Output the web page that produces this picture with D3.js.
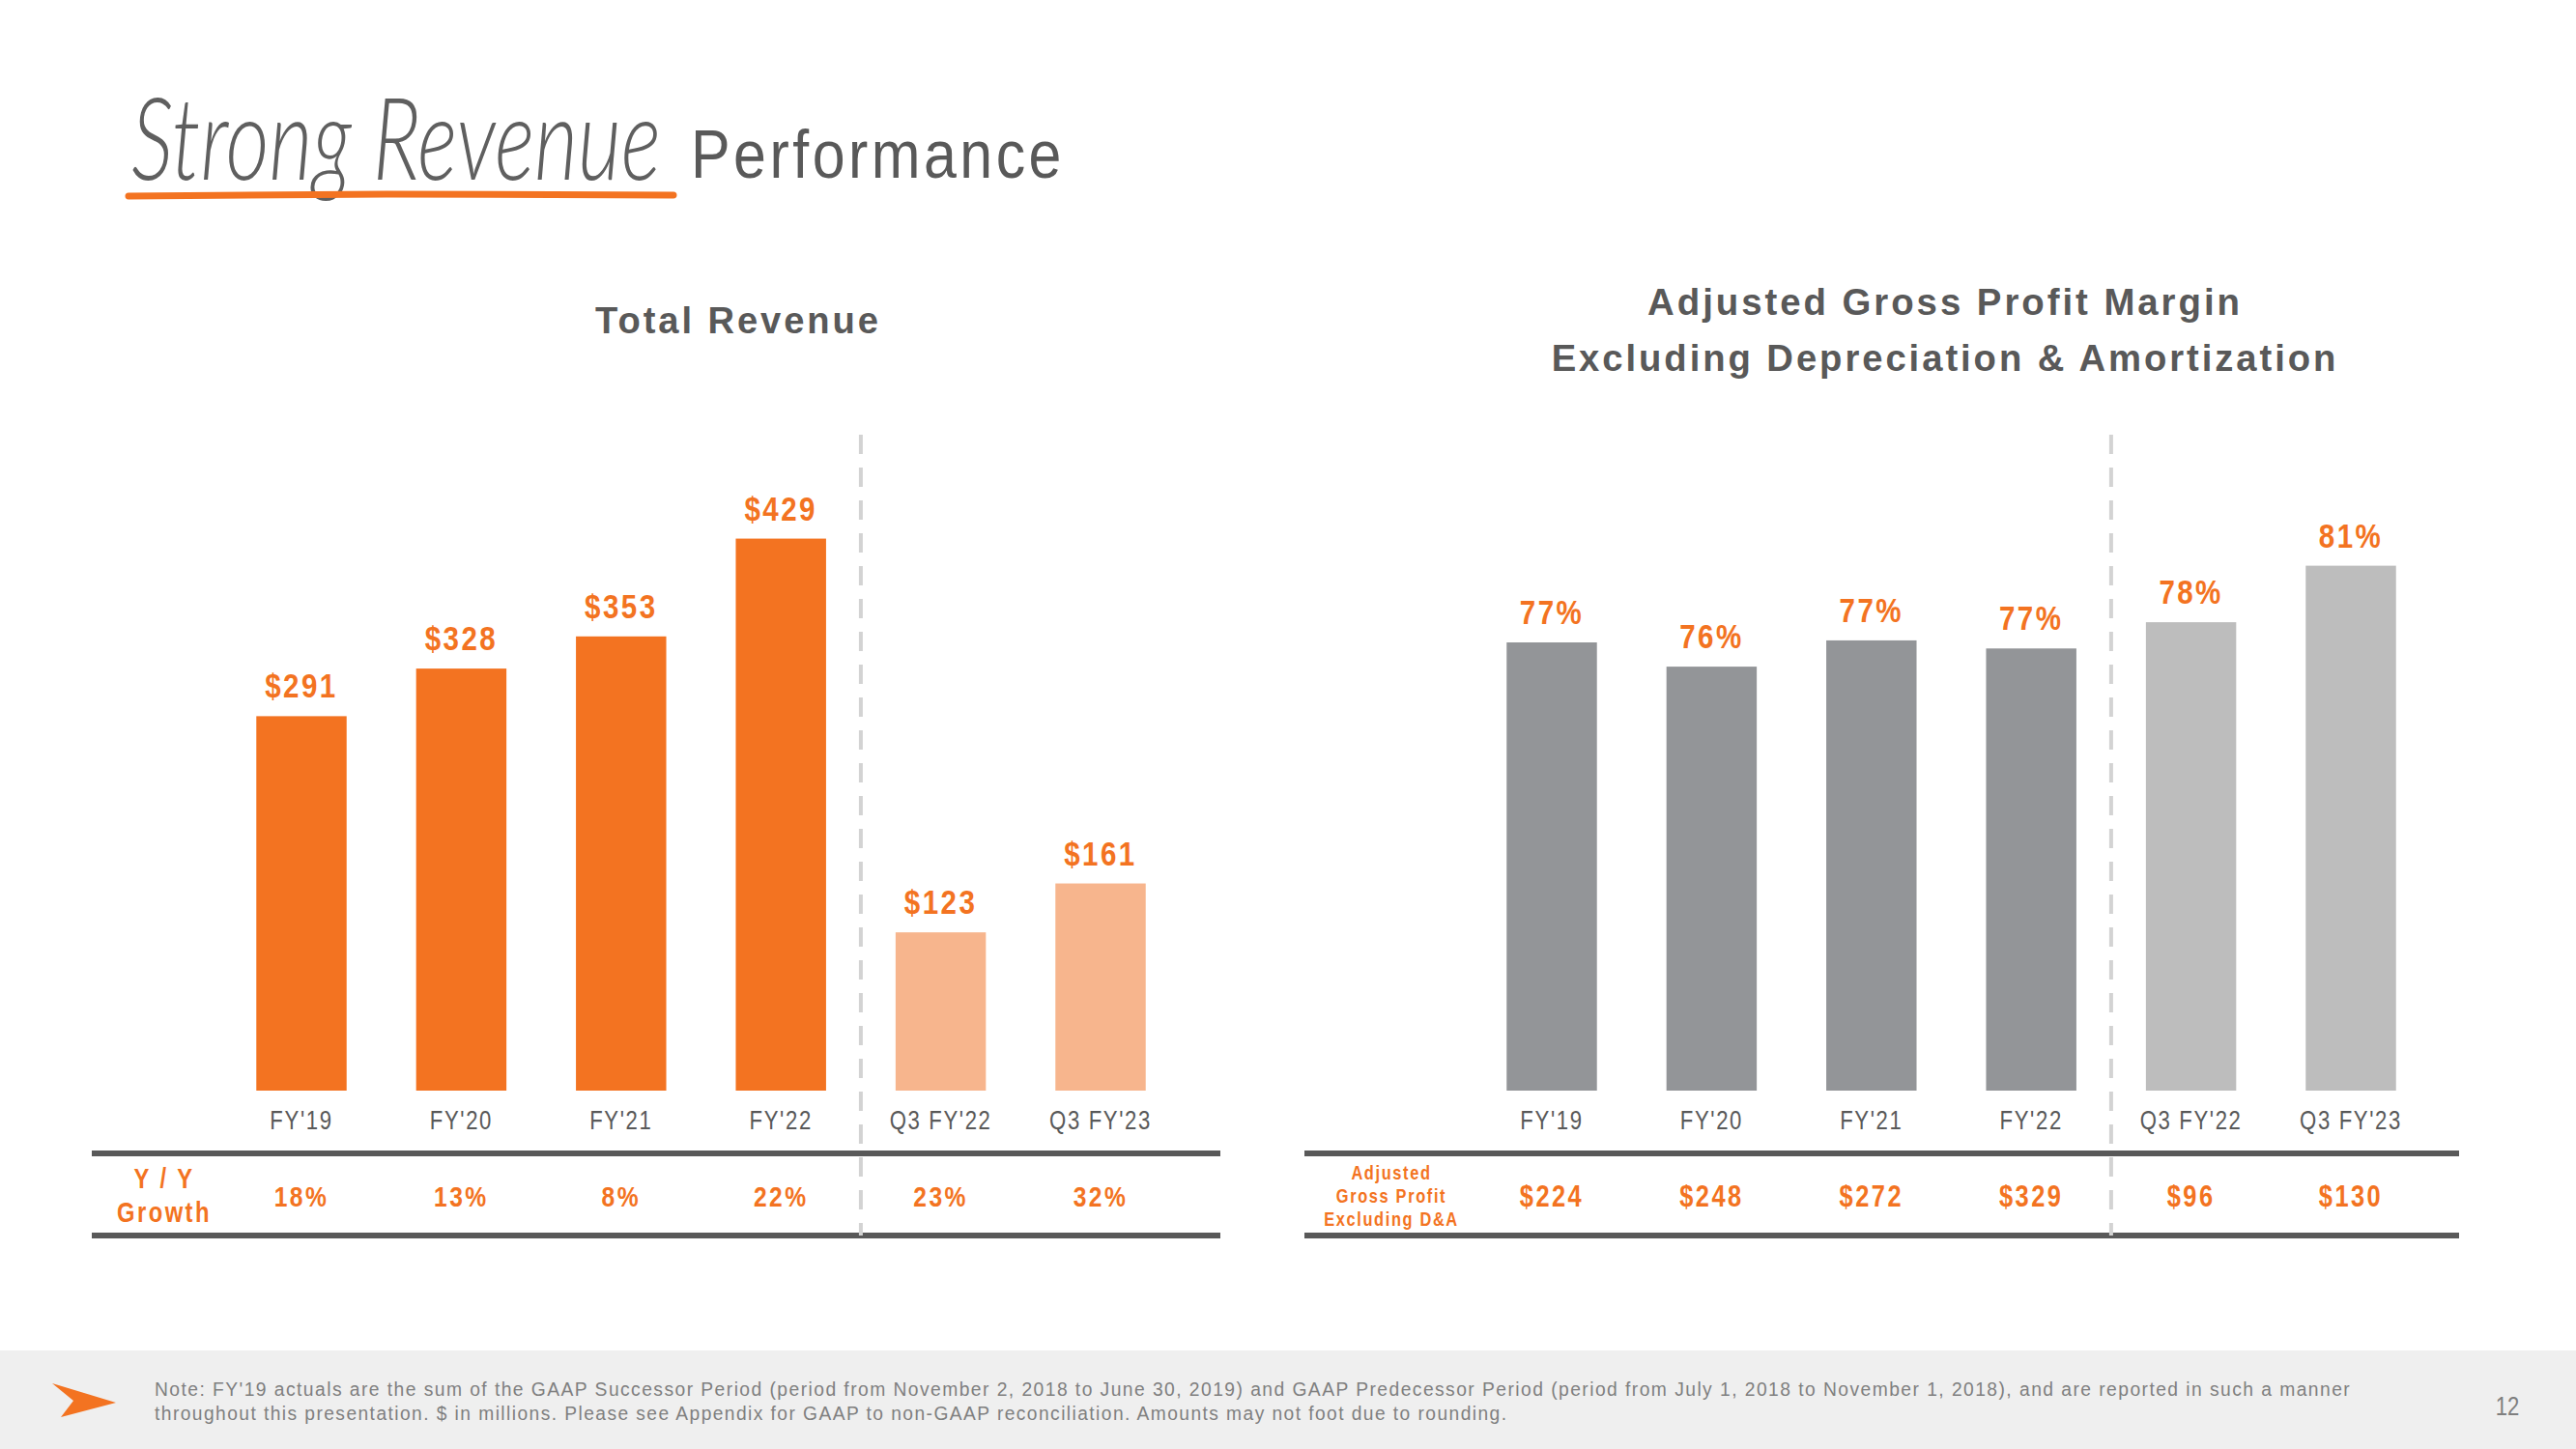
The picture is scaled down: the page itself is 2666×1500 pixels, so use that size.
<!DOCTYPE html>
<html>
<head>
<meta charset="utf-8">
<script src="https://cdn.jsdelivr.net/npm/d3@7"></script>
<style>
  html, body { margin: 0; padding: 0; background: #ffffff; }
  svg { display: block; }
</style>
</head>
<body>
<svg id="chart" width="2666" height="1500"></svg>
<script>
// ---------- DATA ----------
const categories = ["FY'19", "FY'20", "FY'21", "FY'22", "Q3 FY'22", "Q3 FY'23"];
const revenueValues = [291, 328, 353, 429, 123, 161];
const revenueLabels = ["$291", "$328", "$353", "$429", "$123", "$161"];
const revenueGrowth = ["18%", "13%", "8%", "22%", "23%", "32%"];
const marginValues = [77.2, 76.0, 77.3, 76.9, 78.2, 81.0];
const marginLabels = ["77%", "76%", "77%", "77%", "78%", "81%"];
const grossProfitLabels = ["$224", "$248", "$272", "$329", "$96", "$130"];
const periodType = ["annual", "annual", "annual", "annual", "quarter", "quarter"];

// ---------- STYLE ----------
const ORANGE = "#F37321";
const ORANGE_LIGHT = "#F7B58D";
const GRAY_DARK = "#939598";
const GRAY_LIGHT = "#BDBDBD";
const TEXT_GRAY = "#595959";
const SANS = "'Liberation Sans', Arial, sans-serif";
const NARROW_SCALE = 0.82;

const svg = d3.select("#chart");

// narrow-looking text: horizontally condensed sans
function narrowText(parent, x, y, str, o) {
  return parent.append("text")
    .attr("transform", `translate(${x},${y}) scale(${NARROW_SCALE},1)`)
    .attr("text-anchor", o.anchor || "middle")
    .attr("font-family", SANS)
    .attr("font-weight", o.weight || 400)
    .attr("font-size", o.size)
    .attr("letter-spacing", o.ls || 0)
    .attr("fill", o.fill)
    .text(str);
}

// text squeezed to a target width through a scale transform
function fittedText(parent, x, y, str, width, o) {
  const t = parent.append("text")
    .attr("text-anchor", o.anchor || "start")
    .attr("font-family", o.family || SANS)
    .attr("font-style", o.style || "normal")
    .attr("font-weight", o.weight || 400)
    .attr("font-size", o.size)
    .attr("letter-spacing", o.ls || 0)
    .attr("fill", o.fill)
    .text(str);
  const w = t.node().getComputedTextLength() || width;
  t.attr("transform", `translate(${x},${y}) scale(${width / w},1)`);
  return t;
}

// ---------- HEADER ----------
fittedText(svg, 136, 186, "Strong Revenue", 548,
  { family: "Lato, sans-serif", style: "italic", weight: 300, size: 118, fill: "#5f5f5f" });

svg.append("path")
  .attr("d", d3.line()([[133, 203], [400, 201], [697, 202]]))
  .attr("stroke", ORANGE).attr("stroke-width", 7)
  .attr("stroke-linecap", "round").attr("fill", "none");

fittedText(svg, 715, 184, "Performance", 387,
  { size: 70, ls: 4, fill: TEXT_GRAY });

// ---------- CHART BUILDER ----------
function buildChart(opts) {
  const g = svg.append("g");
  const x = d3.scaleBand()
    .domain(categories)
    .range(opts.xRange)
    .paddingInner(0.435)
    .paddingOuter(0.2175);
  const y = d3.scaleLinear().domain(opts.yDomain).range(opts.yRange);
  const cx = i => x(categories[i]) + x.bandwidth() / 2;

  // title
  opts.title.forEach((t, i) => {
    fittedText(g, opts.titleX, opts.titleY[i], t, opts.titleW[i],
      { anchor: "middle", weight: 700, size: 39, ls: 3, fill: TEXT_GRAY });
  });

  // bars
  g.selectAll("rect.bar").data(opts.values).join("rect")
    .attr("class", "bar")
    .attr("x", (d, i) => x(categories[i]))
    .attr("width", x.bandwidth())
    .attr("y", d => y(d))
    .attr("height", d => y(opts.yDomain[0]) - y(d))
    .attr("fill", (d, i) => periodType[i] === "annual" ? opts.colors[0] : opts.colors[1]);

  // value labels
  opts.labels.forEach((d, i) => {
    narrowText(g, cx(i), y(opts.values[i]) - 19, d,
      { weight: 700, size: 36, ls: 3, fill: ORANGE });
  });

  // x axis labels
  const axis = d3.axisBottom(x).tickSize(0).tickPadding(0);
  const ag = g.append("g")
    .attr("transform", `translate(0, ${opts.yRange[0] + 40})`)
    .call(axis);
  ag.select(".domain").remove();
  ag.selectAll("text")
    .attr("font-family", SANS).attr("font-size", 27)
    .attr("letter-spacing", 2)
    .attr("fill", TEXT_GRAY)
    .attr("y", 0).attr("dy", "0")
    .attr("transform", `scale(${NARROW_SCALE},1)`);

  // table lines
  [1194, 1279].forEach(ly => {
    g.append("line")
      .attr("x1", opts.tableX[0]).attr("x2", opts.tableX[1])
      .attr("y1", ly).attr("y2", ly)
      .attr("stroke", TEXT_GRAY).attr("stroke-width", 6);
  });

  // dashed separator
  const sepX = (x(categories[3]) + x.bandwidth() + x(categories[4])) / 2;
  g.append("line")
    .attr("x1", sepX).attr("x2", sepX)
    .attr("y1", 450).attr("y2", 1279)
    .attr("stroke", "#D3D3D3").attr("stroke-width", 4)
    .attr("stroke-dasharray", "20,14");

  // row values
  opts.rowValues.forEach((d, i) => {
    narrowText(g, cx(i), 1249, d,
      { weight: 700, size: opts.rowFont, ls: 3, fill: ORANGE });
  });

  // row header
  opts.rowHeader.forEach((t, i) => {
    narrowText(g, opts.rowHeaderX, opts.rowHeaderY[i], t,
      { weight: 700, size: opts.rowHeaderFont, ls: opts.rowHeaderLS, fill: ORANGE });
  });
}

buildChart({
  xRange: [229.3, 1221.7],
  yDomain: [0, 500],
  yRange: [1129, 463],
  values: revenueValues,
  labels: revenueLabels,
  colors: [ORANGE, ORANGE_LIGHT],
  title: ["Total Revenue"],
  titleX: 764, titleY: [345], titleW: [296],
  tableX: [95, 1263],
  rowValues: revenueGrowth,
  rowFont: 30,
  rowHeader: ["Y / Y", "Growth"],
  rowHeaderX: 170, rowHeaderY: [1230, 1265],
  rowHeaderFont: 29, rowHeaderLS: 3
});

buildChart({
  xRange: [1523.3, 2515.7],
  yDomain: [55, 100],
  yRange: [1129, 188.5],
  values: marginValues,
  labels: marginLabels,
  colors: [GRAY_DARK, GRAY_LIGHT],
  title: ["Adjusted Gross Profit Margin", "Excluding Depreciation & Amortization"],
  titleX: 2013, titleY: [326, 384], titleW: [616, 815],
  tableX: [1350, 2545],
  rowValues: grossProfitLabels,
  rowFont: 31,
  rowHeader: ["Adjusted", "Gross Profit", "Excluding D&A"],
  rowHeaderX: 1440, rowHeaderY: [1221, 1245, 1269],
  rowHeaderFont: 20, rowHeaderLS: 2
});

// ---------- FOOTER ----------
svg.append("rect")
  .attr("x", 0).attr("y", 1398).attr("width", 2666).attr("height", 102)
  .attr("fill", "#EFEFEF");

svg.append("path")
  .attr("d", d3.line()([[54, 1432], [120, 1452], [63, 1467], [76, 1450]]) + "Z")
  .attr("fill", ORANGE);

const notes = [
  "Note: FY'19 actuals are the sum of the GAAP Successor Period (period from November 2, 2018 to June 30, 2019) and GAAP Predecessor Period (period from July 1, 2018 to November 1, 2018), and are reported in such a manner",
  "throughout this presentation. $ in millions. Please see Appendix for GAAP to non-GAAP reconciliation. Amounts may not foot due to rounding."
];
const noteW = [2275, 1401];
notes.forEach((t, i) => {
  fittedText(svg, 160, 1445 + i * 25, t, noteW[i],
    { size: 20, ls: 1.5, fill: "#7F7F7F" });
});

narrowText(svg, 2595, 1465, "12", { size: 27, fill: "#7F7F7F" });
</script>
</body>
</html>
